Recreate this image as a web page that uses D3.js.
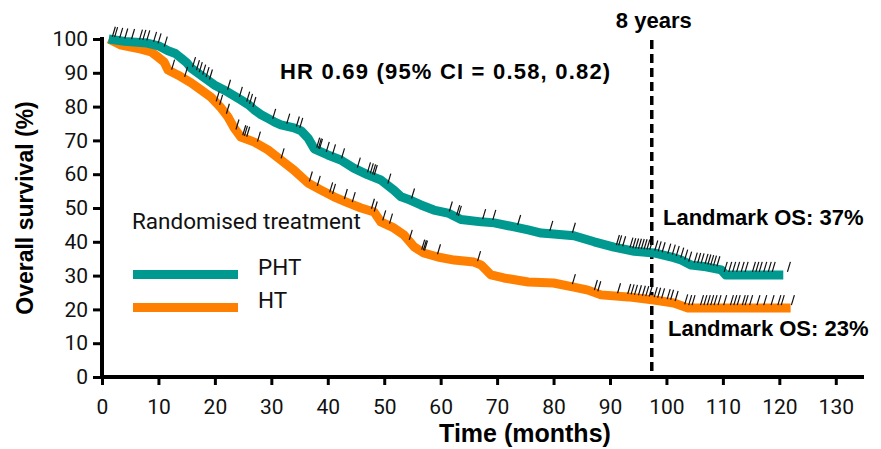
<!DOCTYPE html>
<html>
<head>
<meta charset="utf-8">
<script src="https://cdn.jsdelivr.net/npm/d3@7"></script>
<style>
  body { margin: 0; background: #fff; }
  .bold { font-family: "Liberation Sans", Arial, sans-serif; font-weight: bold; fill: #000; }
  .reg { font-family: Roboto, "Noto Sans", sans-serif; fill: #111; }
</style>
</head>
<body>
<div id="chart"></div>
<script>
// KM step points (months, % alive)
const phtTime = [1.2, 4, 8, 10, 11.7, 13, 14, 15, 15.8, 17.5, 19.9, 22.3, 24.6, 26, 27, 28.2, 29.4, 30.5, 31.7, 34, 35.3, 36.5, 37.6, 40, 42.3, 44.6, 47.1, 49.4, 51.7, 53, 54.2, 56.5, 58.8, 61.3, 63.6, 67.2, 69.5, 73, 75.5, 77.8, 80, 83.6, 87.2, 90.7, 94.3, 97.8, 101.3, 102.6, 104.4, 107, 109.7, 110.5, 120.7];
const phtSurv = [100, 99.3, 98.8, 98, 96.5, 95.7, 94.4, 93, 91.4, 89.3, 86.4, 84.3, 82, 80.5, 79, 77.6, 76.5, 75.5, 74.6, 73.7, 72.8, 70.7, 67.5, 65.7, 64.2, 61.8, 59.8, 58.3, 55.3, 53.3, 52.6, 50.9, 49.4, 48.5, 46.6, 45.9, 45.6, 44.4, 43.5, 42.6, 42.3, 41.8, 40, 38.4, 37.2, 36.7, 35.3, 34.6, 33.1, 32.6, 31.7, 30.2, 30.2];

const htTime = [1.2, 3.4, 6.9, 8.7, 9.9, 11, 11.7, 13.5, 15.8, 17.5, 19.3, 21.1, 22.3, 23.4, 24.6, 27, 29.4, 31.7, 34, 36.5, 38.8, 41.1, 43.6, 45.9, 48.2, 49.4, 51.7, 53.5, 55.3, 57, 59.5, 62.4, 65.9, 67.2, 68.9, 71.2, 75.5, 80, 83.6, 86.1, 88.4, 93.2, 97.8, 101.3, 103.8, 122];
const htSurv = [100, 98.2, 97, 96.2, 94.7, 93.2, 90.8, 89.3, 87, 85, 82.8, 79.6, 77, 73.7, 71, 69.5, 67.2, 64.2, 61.2, 57.4, 55.3, 53.3, 51.5, 50, 48.8, 45.9, 44.1, 42, 38.5, 36.7, 35.5, 34.6, 34, 33.1, 30.2, 29.3, 28.1, 27.8, 26.6, 25.7, 24.3, 23.7, 22.8, 21.9, 20.4, 20.4];

// censoring times
const phtCensor = [2.1, 2.5, 3.4, 4.3, 5.5, 6.9, 7.5, 8.2, 9.4, 10.2, 11.3, 16.3, 17, 17.5, 18.1, 18.7, 19.3, 22.5, 24.6, 25.9, 26.4, 27, 30.5, 33, 34.7, 35.3, 38.3, 38.6, 38.8, 40, 41.1, 42.7, 45.5, 47.3, 47.8, 48.2, 48.5, 50.9, 55.1, 61.8, 63.1, 63.4, 67.7, 69.5, 73.9, 79.6, 83.6, 91.4, 91.8, 92.5, 93.8, 94.3, 94.8, 95.3, 95.8, 96.3, 96.8, 97.3, 98.2, 98.8, 99.5, 100.5, 101.3, 102, 102.8, 103.5, 104.2, 105.2, 105.8, 106.4, 107.1, 107.6, 108.1, 108.6, 109.2, 110.5, 111.3, 112, 112.7, 113.5, 114.2, 115.5, 116.1, 116.7, 117.5, 118.3, 119, 121.7];
const htCensor = [12.6, 14.9, 20.5, 21.1, 22.3, 24, 25.2, 25.5, 25.9, 27.8, 32, 37, 38.4, 40.6, 41.1, 43.2, 44.6, 48, 48.5, 50, 51.2, 54.7, 56.9, 57.2, 57.4, 59.7, 66.8, 83.6, 87.5, 88.1, 91.6, 93.4, 94, 94.6, 95.3, 96, 96.6, 97.2, 98.1, 98.7, 99.4, 100.4, 101, 101.8, 103.5, 104.2, 104.8, 106.3, 106.9, 107.5, 108.1, 108.7, 109.4, 110.4, 111.6, 112.2, 112.8, 113.7, 114.2, 115, 116.3, 117.5, 118.8, 120, 120.6, 122.4];

const xTicks = d3.range(0, 131, 10);
const yTicks = d3.range(0, 101, 10);
const landmark = 97.4;

const width = 881, height = 449;
const margin = {left: 102, right: 17, top: 39, bottom: 72};

const svg = d3.select("#chart").append("svg")
    .attr("width", width)
    .attr("height", height);

const x = d3.scaleLinear().domain([0, 135]).range([margin.left, width - margin.right]);
const y = d3.scaleLinear().domain([0, 100]).range([height - margin.bottom, margin.top]);

// axes
const yAxis = svg.append("g")
    .attr("transform", `translate(${margin.left},0)`)
    .call(d3.axisLeft(y).tickValues(yTicks).tickSize(9).tickPadding(5).tickSizeOuter(0));
const xAxis = svg.append("g")
    .attr("transform", `translate(0,${y(0)})`)
    .call(d3.axisBottom(x).tickValues(xTicks).tickSize(8).tickPadding(14).tickSizeOuter(0));

[xAxis, yAxis].forEach(g => {
  g.select(".domain").attr("stroke", "#000").attr("stroke-width", 4);
  g.selectAll(".tick line").attr("stroke", "#000").attr("stroke-width", 3);
  g.selectAll(".tick text").attr("class", "reg").attr("font-size", 21);
});
yAxis.select(".domain").attr("d", `M0,${y(0) + 2}V${y(100) - 2}`);
xAxis.select(".domain").attr("d", `M${x(0) - 2},0H${x(135)}`);

// landmark line
svg.append("line")
    .attr("x1", x(landmark)).attr("x2", x(landmark))
    .attr("y1", 40).attr("y2", y(0) - 4)
    .attr("stroke", "#000")
    .attr("stroke-width", 3.5)
    .attr("stroke-dasharray", "9,5");

const series = [
  {name: "PHT", t: phtTime, s: phtSurv, c: phtCensor, color: "#00998f"},
  {name: "HT", t: htTime, s: htSurv, c: htCensor, color: "#ff7f00"}
];

const line = d3.line()
    .x(d => x(d[0]))
    .y(d => y(d[1]));

// draw HT first so PHT sits above it
series.slice().reverse().forEach(sr => {
  svg.append("path")
      .datum(d3.zip(sr.t, sr.s))
      .attr("fill", "none")
      .attr("stroke", sr.color)
      .attr("stroke-width", 9)
      .attr("stroke-linejoin", "round")
      .attr("d", line);
});

// censor ticks sit on the curve value
series.forEach(sr => {
  const interp = t => {
    if (t >= sr.t[sr.t.length - 1]) return sr.s[sr.s.length - 1];
    const i = d3.bisectRight(sr.t, t);
    if (i === 0) return sr.s[0];
    const t0 = sr.t[i - 1], t1 = sr.t[i];
    return sr.s[i - 1] + (sr.s[i] - sr.s[i - 1]) * (t - t0) / (t1 - t0);
  };
  svg.append("g").selectAll("line")
    .data(sr.c)
    .enter()
    .append("line")
      .attr("x1", d => x(d) - 1.5)
      .attr("y1", d => y(interp(d)) - 3)
      .attr("x2", d => x(d) + 1.5)
      .attr("y2", d => y(interp(d)) - 13)
      .attr("stroke", "#111")
      .attr("stroke-width", 1.2);
});

// legend
svg.append("text").attr("class", "reg").attr("font-size", 22.5)
    .attr("x", 132).attr("y", 229).text("Randomised treatment");
series.forEach((sr, i) => {
  const ly = 274.5 + i * 33;
  svg.append("line")
      .attr("x1", 133).attr("x2", 238)
      .attr("y1", ly).attr("y2", ly)
      .attr("stroke", sr.color).attr("stroke-width", 9);
  svg.append("text").attr("class", "reg").attr("font-size", 22.5)
      .attr("x", 258).attr("y", ly).text(sr.name);
});

// annotations
svg.append("text").attr("class", "bold").attr("font-size", 22)
    .attr("x", 280).attr("y", 79).attr("letter-spacing", 1.2)
    .text("HR 0.69 (95% CI = 0.58, 0.82)");
svg.append("text").attr("class", "bold").attr("font-size", 22)
    .attr("x", x(landmark) + 2).attr("y", 28).attr("text-anchor", "middle")
    .text("8 years");
svg.append("text").attr("class", "bold").attr("font-size", 22)
    .attr("x", 663).attr("y", 225).text("Landmark OS: 37%");
svg.append("text").attr("class", "bold").attr("font-size", 22)
    .attr("x", 668).attr("y", 336).text("Landmark OS: 23%");

// axis titles
svg.append("text").attr("class", "bold").attr("font-size", 25)
    .attr("x", 525).attr("y", 442).attr("text-anchor", "middle")
    .text("Time (months)");
svg.append("text").attr("class", "bold").attr("font-size", 23)
    .attr("transform", `translate(33,${(y(0) + y(100)) / 2}) rotate(-90)`)
    .attr("text-anchor", "middle")
    .text("Overall survival (%)");
</script>
</body>
</html>
